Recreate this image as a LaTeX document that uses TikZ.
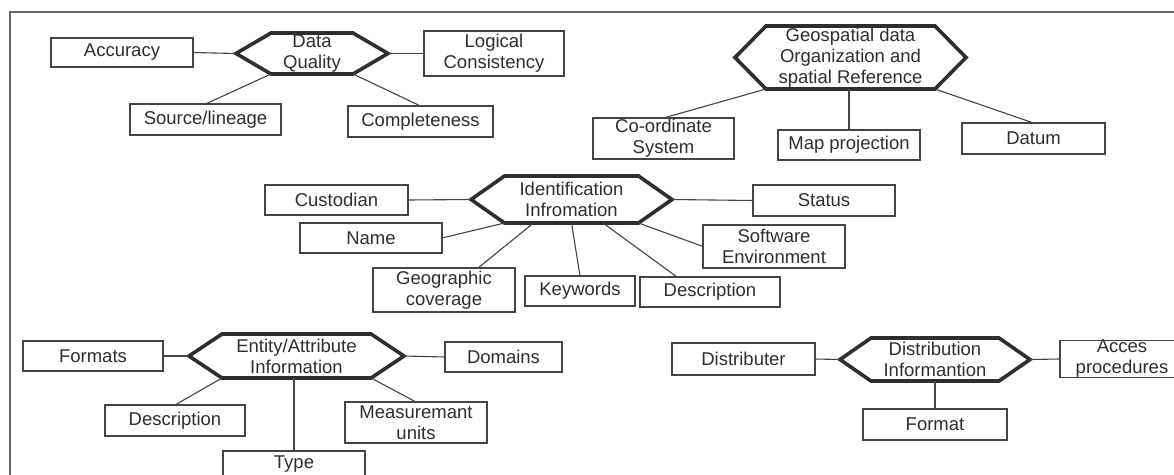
\documentclass[tikz,border=0pt]{standalone}
\usepackage{fontspec}
\setmainfont{Liberation Sans}
\definecolor{ink}{HTML}{2E2E2E}
\definecolor{edge}{HTML}{444444}
\newcommand\hexdraw[2]{%
  \coordinate (#1-l) at ([xshift=-#2]#1.west);
  \coordinate (#1-r) at ([xshift=#2]#1.east);
  \draw[hexline] (#1.north west) -- (#1.north east) -- (#1-r) -- (#1.south east)
     -- (#1.south west) -- (#1-l) -- cycle;}
\begin{document}
\begin{tikzpicture}[x=1pt,y=-1pt,
  txt/.style={font=\fontsize{18.5}{21}\selectfont, text=ink, align=center, inner sep=0pt, outer sep=0pt},
  box/.style={txt, draw=edge, line width=1.3pt},
  hexin/.style={txt},
  hexline/.style={draw=ink, line width=3.6pt, line join=miter},
  conn/.style={draw=edge, line width=1.1pt},
  frame/.style={draw=edge!80, line width=1.6pt}]
\path[use as bounding box] (0,0) rectangle (1174,474);
\fill[white] (0,0) rectangle (1174,474);
\coordinate (f1) at (10,480);
\coordinate (f2) at (10,12);
\coordinate (f3) at (1180,12);
\draw[frame] (f1) -- (f2) -- (f3);

% ---- Data Quality
\node[hexin, minimum width=82pt, minimum height=41pt] (dq) at (312,53.5) {Data\\Quality};
\hexdraw{dq}{35pt}
\node[box, minimum width=142pt, minimum height=29pt] (acc) at (122,52.5) {Accuracy};
\node[box, minimum width=140pt, minimum height=45pt] (lc) at (494,53.5) {Logical\\Consistency};
\node[box, minimum width=151pt, minimum height=31pt] (src) at (205.5,119.5) {Source/lineage};
\node[box, minimum width=145pt, minimum height=31pt] (comp) at (420.5,121.5) {Completeness};
\draw[conn] (acc.east) -- (dq-l);
\draw[conn] (dq-r) -- (lc.west);
\draw[conn] (dq.south west) -- (src.north);
\draw[conn] (dq.south east) -- (comp.north);

% ---- Geospatial
\node[hexin, minimum width=169pt, minimum height=63pt] (geo) at (850.5,57.5) {Geospatial data\\Organization and\\spatial Reference};
\hexdraw{geo}{31pt}
\node[box, minimum width=141pt, minimum height=41pt] (cs) at (663.5,138.5) {Co-ordinate\\System};
\node[box, minimum width=142pt, minimum height=30pt] (mp) at (849,145) {Map projection};
\node[box, minimum width=143pt, minimum height=31pt] (dat) at (1033.5,138.5) {Datum};
\draw[conn] (geo.south west) -- (cs.north);
\draw[conn] (geo.south -| mp.north) -- (mp.north);
\draw[conn] (geo.south east) -- (dat.north);

% ---- Identification
\node[hexin, minimum width=134pt, minimum height=47pt] (id) at (571.5,199.5) {Identification\\Infromation};
\hexdraw{id}{33.5pt}
\node[box, minimum width=143pt, minimum height=30pt] (cust) at (336.5,200) {Custodian};
\node[box, minimum width=142pt, minimum height=31pt] (stat) at (824,200.5) {Status};
\node[box, minimum width=142pt, minimum height=30pt] (name) at (371,238) {Name};
\node[box, minimum width=142pt, minimum height=43pt] (sw) at (774,246.5) {Software\\Environment};
\node[box, minimum width=142pt, minimum height=44pt] (gc) at (444,290) {Geographic\\coverage};
\node[box, minimum width=110pt, minimum height=30pt] (kw) at (580,291) {Keywords};
\node[box, minimum width=140pt, minimum height=30pt] (desca) at (710,292) {Description};
\draw[conn] (cust.east) -- (id-l);
\draw[conn] (id-r) -- (stat.west);
\draw[conn] (name.east) -- (id.south west);
\draw[conn] ([xshift=29pt]id.south west) -- ([xshift=34pt]gc.north);
\draw[conn] (id.south) -- (kw.north);
\draw[conn] ([xshift=31.5pt]id.south) -- ([xshift=-33pt]desca.north);
\draw[conn] (id.south east) -- (sw.west);

% ---- Entity/Attribute
\node[hexin, minimum width=149pt, minimum height=44pt] (ent) at (296.5,356) {Entity/Attribute\\Information};
\hexdraw{ent}{33pt}
\node[box, minimum width=140pt, minimum height=30pt] (fmts) at (93,356) {Formats};
\node[box, minimum width=117pt, minimum height=30pt] (dom) at (503.5,357) {Domains};
\node[box, minimum width=140pt, minimum height=31pt] (descb) at (175,420.5) {Description};
\node[box, minimum width=142pt, minimum height=41pt] (meas) at (416,422.5) {Measuremant\\units};
\node[box, minimum width=142pt, minimum height=26pt] (type) at (294,464) {Type};
\draw[conn] (fmts.east) -- (ent-l);
\draw[conn] (ent-r) -- (dom.west);
\draw[conn] (ent.south west) -- (descb.north);
\draw[conn] (ent.south -| type.north) -- (type.north);
\draw[conn] (ent.south east) -- (meas.north);

% ---- Distribution
\node[hexin, minimum width=128pt, minimum height=43pt] (dist) at (935,359.5) {Distribution\\Informantion};
\hexdraw{dist}{31pt}
\node[box, minimum width=143pt, minimum height=32pt] (dbr) at (743.5,359) {Distributer};
\node[box, minimum width=124pt, minimum height=36pt] (acc2) at (1122,359) {Acces\\procedures};
\node[box, minimum width=144pt, minimum height=31pt] (fmt) at (935,424.5) {Format};
\draw[conn] (dbr.east) -- (dist-l);
\draw[conn] (dist-r) -- (acc2.west);
\draw[conn] (dist.south) -- (fmt.north);
\end{tikzpicture}
\end{document}
